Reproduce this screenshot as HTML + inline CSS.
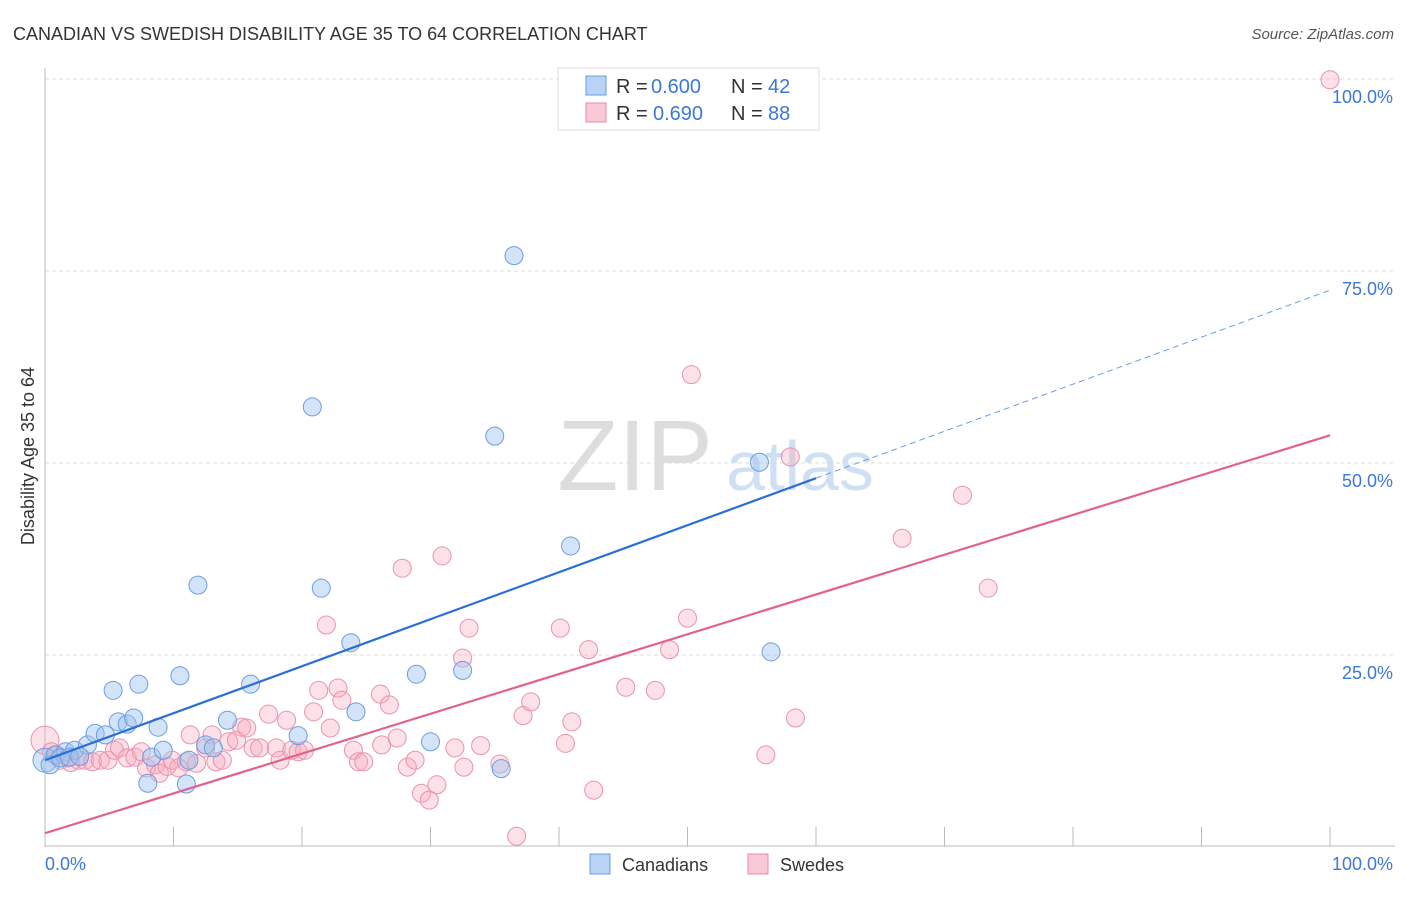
<!DOCTYPE html>
<html><head><meta charset="utf-8"><style>
body{margin:0;background:#fff;font-family:"Liberation Sans",sans-serif}
svg text{font-family:"Liberation Sans",sans-serif}
</style></head><body>
<svg id="c" width="1406" height="892">
<text x="13" y="40" font-size="18" fill="#333">CANADIAN VS SWEDISH DISABILITY AGE 35 TO 64 CORRELATION CHART</text>
<text x="1394" y="39" font-size="15" fill="#555" font-style="italic" text-anchor="end">Source: ZipAtlas.com</text>
<text x="635" y="490" font-size="100" fill="#ddd" font-family="Liberation Serif" text-anchor="middle">ZIP</text>
<text x="800" y="490" font-size="70" fill="#cfe0f5" text-anchor="middle">atlas</text>
<g id="grid"></g><g id="axes"></g><g id="pts"></g><g id="lines"></g>
<text transform="translate(34,456) rotate(-90)" font-size="18" fill="#333" text-anchor="middle">Disability Age 35 to 64</text>
<g>
<rect x="558" y="68" width="261" height="62" fill="#fff" stroke="#ddd"/>
<rect x="586" y="76" width="20" height="19" fill="#b8d3f5" stroke="#6a9de0"/>
<rect x="586" y="103" width="20" height="19" fill="#f9c8d6" stroke="#e88aa5"/>
<text x="616" y="93" font-size="20" fill="#333">R =</text>
<text x="651" y="93" font-size="20" fill="#3b78d8">0.600</text>
<text x="731" y="93" font-size="20" fill="#333">N =</text>
<text x="768" y="93" font-size="20" fill="#3b78d8">42</text>
<text x="616" y="120" font-size="20" fill="#333">R =</text>
<text x="653" y="120" font-size="20" fill="#3b78d8">0.690</text>
<text x="731" y="120" font-size="20" fill="#333">N =</text>
<text x="768" y="120" font-size="20" fill="#3b78d8">88</text>
</g>
<g>
<rect x="590" y="854" width="20" height="20" fill="#b8d3f5" stroke="#6a9de0"/>
<text x="622" y="871" font-size="18" fill="#333">Canadians</text>
<rect x="748" y="854" width="20" height="20" fill="#f9c8d6" stroke="#e88aa5"/>
<text x="780" y="871" font-size="18" fill="#333">Swedes</text>
</g>
</svg>
<script>
const yTicks=[25,50,75,100];
const yTickLabels=["25.0%","50.0%","75.0%","100.0%"];
const xTicks=[0,10,20,30,40,50,60,70,80,90,100];
const canX=[0,0.8,1.6,2.3,3.3,3.9,4.7,5.3,5.7,6.4,6.9,7.3,8.0,8.3,8.8,9.2,10.5,11.0,11.2,11.9,12.5,13.1,14.2,16.0,19.7,20.8,21.5,23.8,24.2,28.9,30.0,32.5,35.0,35.5,36.5,40.9,55.6,56.5,0.4,1.2,1.9,2.7];
const canY=[11.3,12.0,12.4,12.6,13.3,14.8,14.6,20.4,16.3,16.0,16.8,21.2,8.3,11.7,15.6,12.6,22.3,8.2,11.3,34.1,13.3,12.9,16.5,21.2,14.5,57.3,33.7,26.6,17.6,22.5,13.7,23.0,53.5,10.2,77.0,39.2,50.1,25.4,10.7,11.6,11.7,11.8];
const sweX=[0,0.5,1.2,1.8,2.6,3.1,3.7,4.3,4.9,5.4,5.8,6.4,7.0,7.5,7.9,8.6,8.9,9.5,9.9,10.4,11.0,11.3,11.8,12.5,13.0,13.3,13.8,14.3,14.9,15.3,15.7,16.2,16.7,17.4,18.0,18.3,18.8,19.2,19.7,20.2,20.9,21.3,21.9,22.2,22.8,23.1,24.0,24.4,24.8,26.1,26.2,26.8,27.4,27.8,28.2,28.8,29.3,29.9,30.5,30.9,31.9,32.5,32.6,33.0,33.9,35.4,36.7,37.2,37.8,40.1,40.5,41.0,42.3,42.7,45.2,47.5,48.6,50.0,50.3,56.1,58.0,58.4,66.7,71.4,73.4,100,0.9,2.0];
const sweY=[13.9,12.4,11.3,11.6,11.3,11.3,11.1,11.3,11.3,12.6,12.9,11.6,11.7,12.4,10.3,10.7,9.6,10.5,11.3,10.3,11.1,14.6,10.9,12.9,14.6,11.1,11.3,13.7,13.9,15.6,15.5,12.9,12.9,17.3,12.9,11.3,16.5,12.6,12.4,12.6,17.6,20.4,28.9,15.5,20.7,19.1,12.6,11.1,11.1,19.9,13.3,18.5,14.2,36.3,10.4,11.3,7.0,6.1,8.1,37.9,12.9,24.6,10.4,28.5,13.2,10.8,1.4,17.1,18.9,28.5,13.5,16.3,25.7,7.4,20.8,20.4,25.7,29.8,61.5,12.0,50.8,16.8,40.2,45.8,33.7,99.9,12.0,11.0];
const canFit=[11.3,0.612]; const canFitEnd=60;
const sweFit=[1.8,0.518];
const sx=v=>45+v*12.85, sy=v=>847-v*7.68;
const NS='http://www.w3.org/2000/svg';
function mk(t,a,p){const e=document.createElementNS(NS,t);for(const k in a)e.setAttribute(k,a[k]);document.getElementById(p).appendChild(e);return e;}
yTicks.forEach((t,i)=>{
 const g=mk('line',{x1:45,x2:1395,y1:sy(t),y2:sy(t),stroke:'#ddd','stroke-dasharray':'4,3'},'grid');
 
 
 const l=mk('text',{x:1393,y:sy(t)+24,'font-size':18,fill:'#3b78d8','text-anchor':'end'},'axes');l.textContent=yTickLabels[i];
 
 
});
mk('line',{x1:45,x2:45,y1:68,y2:847,stroke:'#bbb'},'axes');
mk('line',{x1:45,x2:1395,y1:846,y2:846,stroke:'#bbb'},'axes');
xTicks.forEach(t=>{const e=mk('line',{x1:sx(t),x2:sx(t),y1:827,y2:846,stroke:'#bbb'},'axes');
 
 });
[[0,'0.0%','start',45],[100,'100.0%','end',1393]].forEach(a=>{const e=mk('text',{x:a[3],y:870,'font-size':18,fill:'#3b78d8','text-anchor':a[2]},'axes');e.textContent=a[1];
 
 });
sweX.forEach((x,i)=>{const c=mk('circle',{cx:sx(x),cy:sy(sweY[i]),r:(i==0?14:9),fill:'rgba(245,170,190,0.35)',stroke:'#ea93ab','stroke-width':1},'pts');
 
 });
canX.forEach((x,i)=>{const c=mk('circle',{cx:sx(x),cy:sy(canY[i]),r:(i==0?12:9),fill:'rgba(160,196,240,0.45)',stroke:'#6a9de0','stroke-width':1},'pts');
 
 });
const f=(p,x)=>p[0]+p[1]*x;
let l=mk('line',{x1:sx(0),y1:sy(f(canFit,0)),x2:sx(canFitEnd),y2:sy(f(canFit,canFitEnd)),stroke:'#2a6fd6','stroke-width':2.2},'lines');


l=mk('line',{x1:sx(canFitEnd),y1:sy(f(canFit,canFitEnd)),x2:sx(100),y2:sy(f(canFit,100)),stroke:'#6a9de0','stroke-width':1,'stroke-dasharray':'6,4'},'lines');


l=mk('line',{x1:sx(0),y1:sy(f(sweFit,0)),x2:sx(100),y2:sy(f(sweFit,100)),stroke:'#e2628a','stroke-width':2.2},'lines');


</script>
</body></html>
